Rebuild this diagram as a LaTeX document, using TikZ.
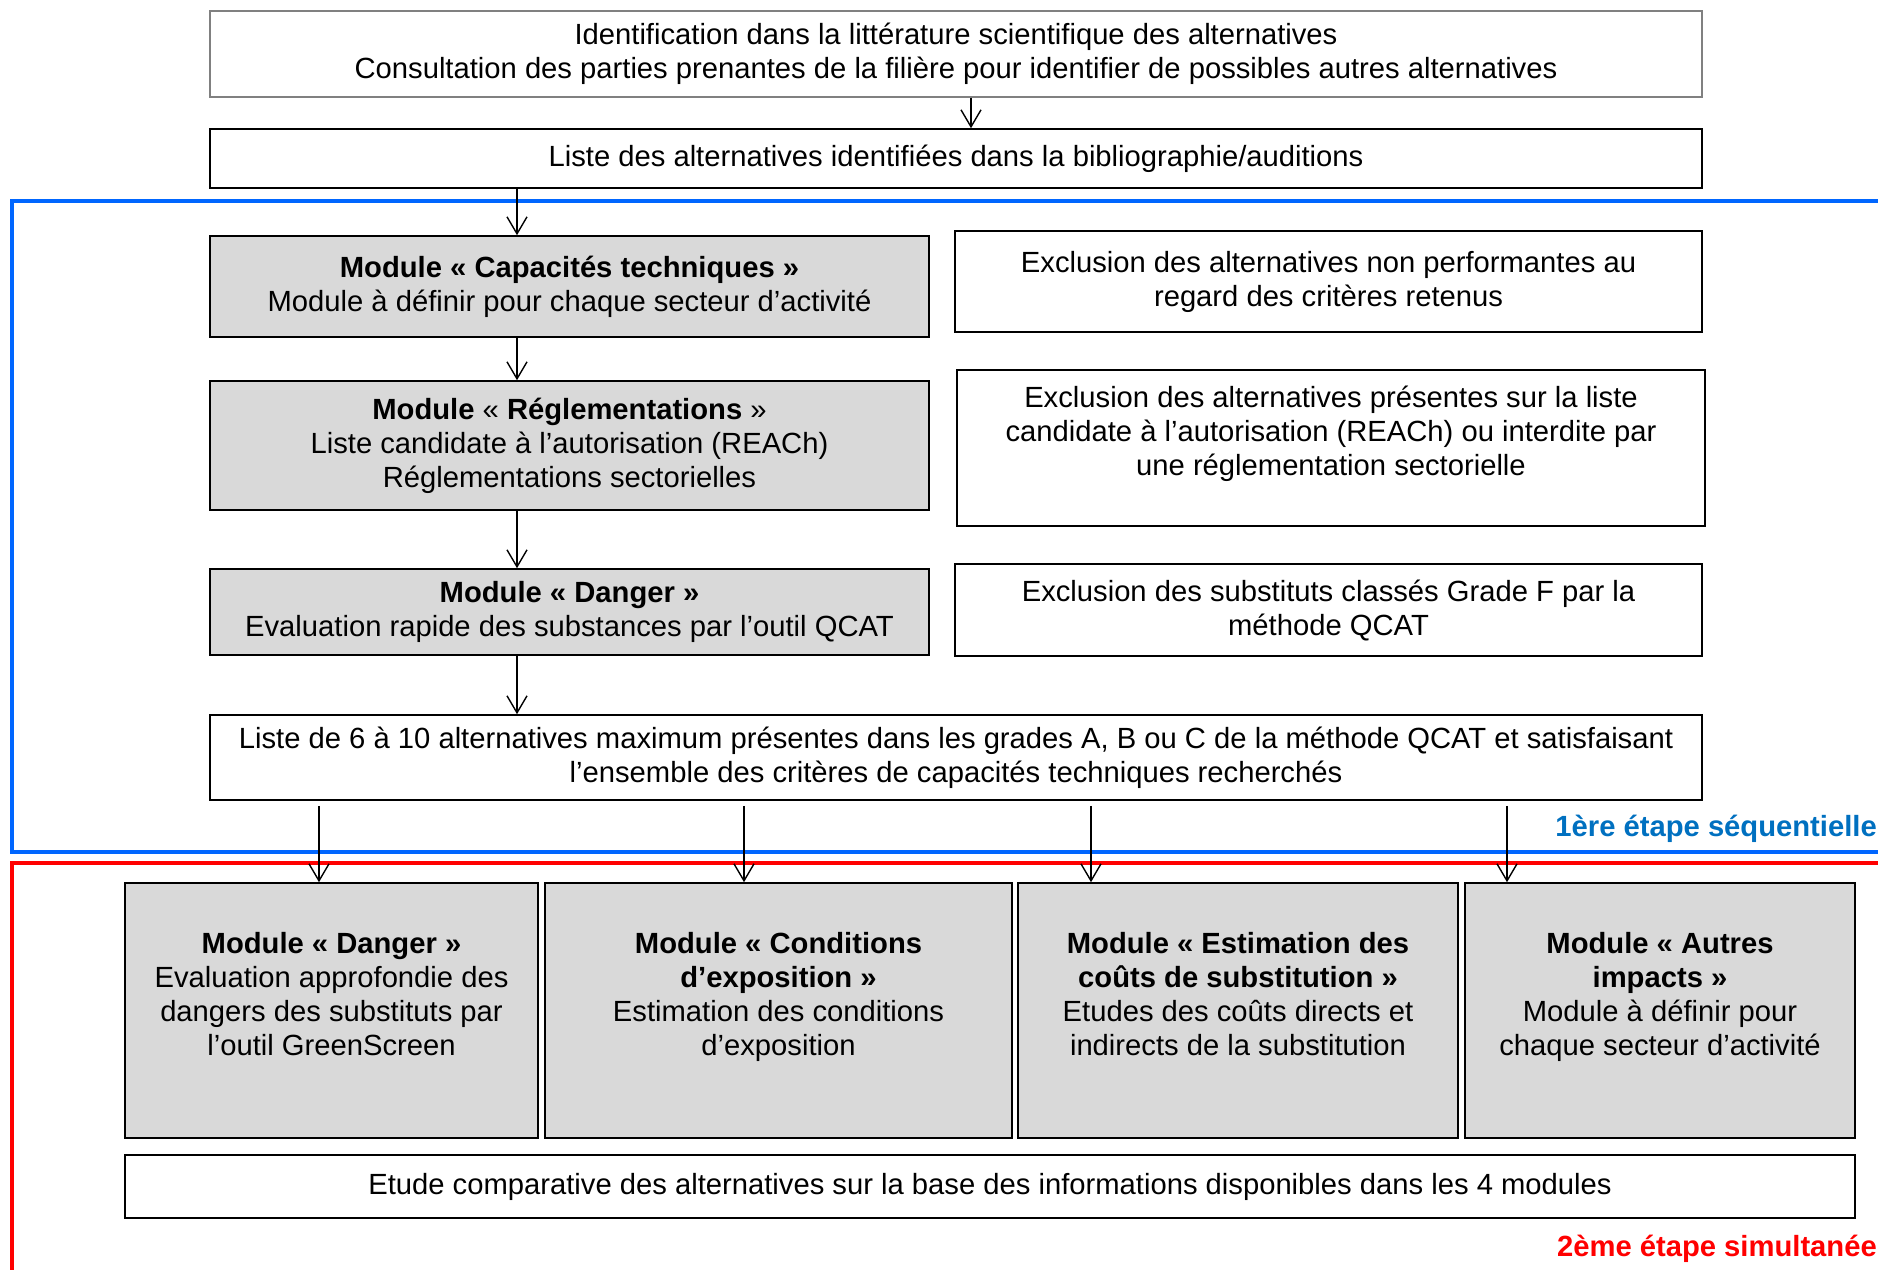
\documentclass[tikz,border=0pt]{standalone}
\usepackage{fontspec}
\setmainfont{Liberation Sans}
\usetikzlibrary{arrows.meta}
\definecolor{boxgrey}{HTML}{D9D9D9}
\definecolor{stepblue}{HTML}{0066FF}
\definecolor{labelblue}{HTML}{0070C0}
\definecolor{stepred}{HTML}{FF0000}

\begin{document}
\begin{tikzpicture}[x=1pt, y=-1pt,
		font=\fontsize{29.2pt}{34pt}\selectfont,
		>={Straight Barb[length=17pt,width=20pt]},
		box/.style={draw, line width=1.6pt, align=center, inner sep=0pt},
		module/.style={box, fill=boxgrey},
		frame/.style={line width=4.5pt},
		steplabel/.style={anchor=east, inner sep=0pt, font=\fontsize{29.2pt}{34pt}\selectfont\bfseries}]
		\useasboundingbox (0,0) rectangle (1878,1269);

		% les deux etapes
		\begin{scope}
			\clip (0,0) rectangle (1878,1269);
			\draw [frame, stepblue] (12,201) rectangle (1900,852);
			\draw [frame, stepred] (12,863) rectangle (1900,1290);
		\end{scope}

		\node (1)[box, draw=gray, line width=1.2pt, minimum width=1492pt, minimum height=86pt] at (956,54)
			{Identification dans la littérature scientifique des alternatives\\
			 Consultation des parties prenantes de la filière pour identifier de possibles autres alternatives};
		\node (2)[box, minimum width=1492pt, minimum height=59pt] at (956,158.5)
			{Liste des alternatives identifiées dans la bibliographie/auditions};

		\node (3)[module, minimum width=719pt, minimum height=101pt] at (569.5,286.5)
			{\textbf{Module «~Capacités techniques~»}\\Module à définir pour chaque secteur d’activité};
		\node (4)[box, minimum width=747pt, minimum height=101pt] at (1328.5,281.5)
			{Exclusion des alternatives non performantes au\\regard des critères retenus};

		\node (5)[module, minimum width=719pt, minimum height=129pt] at (569.5,445.5)
			{\textbf{Module} «~\textbf{Réglementations}~»\\Liste candidate à l’autorisation (REACh)\\Réglementations sectorielles};
		\node (6)[box, minimum width=748pt, minimum height=156pt] at (1331,448)
			{Exclusion des alternatives présentes sur la liste\\candidate à l’autorisation (REACh) ou interdite par\\une réglementation sectorielle\\ \mbox{}};

		\node (7)[module, minimum width=719pt, minimum height=86pt] at (569.5,612)
			{\textbf{Module «~Danger~»}\\Evaluation rapide des substances par l’outil QCAT};
		\node (8)[box, minimum width=747pt, minimum height=92pt] at (1328.5,610)
			{Exclusion des substituts classés Grade F par la\\méthode QCAT};

		\node (9)[box, minimum width=1492pt, minimum height=85pt] at (956,757.5)
			{Liste de 6 à 10 alternatives maximum présentes dans les grades A, B ou C de la méthode QCAT et satisfaisant\\
			 l’ensemble des critères de capacités techniques recherchés};

		\node (10)[module, minimum width=413pt, minimum height=255pt] at (331.5,1010.5)
			{\textbf{Module «~Danger~»}\\Evaluation approfondie des\\dangers des substituts par\\l’outil GreenScreen\\ \mbox{}};
		\node (11)[module, minimum width=467pt, minimum height=255pt] at (778.5,1010.5)
			{\textbf{Module «~Conditions}\\\textbf{d’exposition~»}\\Estimation des conditions\\d’exposition\\ \mbox{}};
		\node (12)[module, minimum width=440pt, minimum height=255pt] at (1238,1010.5)
			{\textbf{Module «~Estimation des}\\\textbf{coûts de substitution~»}\\Etudes des coûts directs et\\indirects de la substitution\\ \mbox{}};
		\node (13)[module, minimum width=390pt, minimum height=255pt] at (1660,1010.5)
			{\textbf{Module «~Autres}\\\textbf{impacts~»}\\Module à définir pour\\chaque secteur d’activité\\ \mbox{}};

		\node (14)[box, minimum width=1730pt, minimum height=63pt] at (990,1186.5)
			{Etude comparative des alternatives sur la base des informations disponibles dans les 4 modules};

		\node (s1)[steplabel, text=labelblue] at (1877,829) {1ère étape séquentielle};
		\node (s2)[steplabel, text=stepred] at (1877,1249) {2ème étape simultanée};

		\coordinate (axis) at (517,0);

		\draw [->, line width=1.4pt]([xshift=15pt]1.south) to ([xshift=15pt]2.north);
		\draw [->, line width=1.4pt](2.south -| axis) to (3.north -| axis);
		\draw [->, line width=1.4pt](3.south -| axis) to (5.north -| axis);
		\draw [->, line width=1.4pt](5.south -| axis) to (7.north -| axis);
		\draw [->, line width=1.4pt](7.south -| axis) to (9.north -| axis);

		\foreach \n/\x in {10/319, 11/744, 12/1091, 13/1507}
			\draw [->, line width=1.4pt, shorten <=5pt](9.south -| \x,0) to (\n.north -| \x,0);
	\end{tikzpicture}
\end{document}
